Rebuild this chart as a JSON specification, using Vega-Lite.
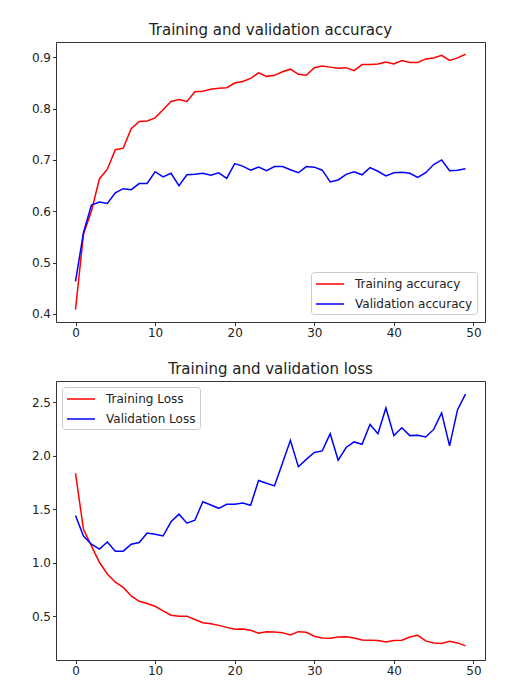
{
  "$schema": "https://vega.github.io/schema/vega-lite/v6.json",
  "padding": {"left": 30, "top": 22, "right": 12, "bottom": 8},
  "background": "white",
  "spacing": 22,
  "config": {
    "font": "DejaVu Sans",
    "view": {"stroke": "#333333", "strokeWidth": 1},
    "axis": {"grid": false, "domain": false, "tickColor": "#333333", "tickSize": 3.5, "labelFontSize": 12, "labelColor": "#222222", "labelFont": "DejaVu Sans", "labelPadding": 2, "title": null},
    "title": {"fontSize": 15, "fontWeight": "normal", "color": "#222222", "offset": 4, "anchor": "middle", "font": "DejaVu Sans"},
    "legend": {"title": null, "symbolType": "M-1,0H3", "symbolSize": 196, "symbolStrokeWidth": 1.5, "labelFontSize": 12, "labelFont": "DejaVu Sans", "labelColor": "#222222", "labelOffset": 24, "padding": 4, "rowPadding": 6, "fillColor": "white", "strokeColor": "#cccccc", "cornerRadius": 3},
    "line": {"strokeWidth": 1.5}
  },
  "datasets": {
    "acc": [
      {"epoch":0,"series":"Training accuracy","value":0.408},{"epoch":1,"series":"Training accuracy","value":0.555},{"epoch":2,"series":"Training accuracy","value":0.600},{"epoch":3,"series":"Training accuracy","value":0.663},{"epoch":4,"series":"Training accuracy","value":0.682},{"epoch":5,"series":"Training accuracy","value":0.720},{"epoch":6,"series":"Training accuracy","value":0.723},{"epoch":7,"series":"Training accuracy","value":0.761},{"epoch":8,"series":"Training accuracy","value":0.775},{"epoch":9,"series":"Training accuracy","value":0.776},
      {"epoch":10,"series":"Training accuracy","value":0.782},{"epoch":11,"series":"Training accuracy","value":0.798},{"epoch":12,"series":"Training accuracy","value":0.814},{"epoch":13,"series":"Training accuracy","value":0.818},{"epoch":14,"series":"Training accuracy","value":0.814},{"epoch":15,"series":"Training accuracy","value":0.833},{"epoch":16,"series":"Training accuracy","value":0.834},{"epoch":17,"series":"Training accuracy","value":0.838},{"epoch":18,"series":"Training accuracy","value":0.840},{"epoch":19,"series":"Training accuracy","value":0.841},
      {"epoch":20,"series":"Training accuracy","value":0.850},{"epoch":21,"series":"Training accuracy","value":0.853},{"epoch":22,"series":"Training accuracy","value":0.859},{"epoch":23,"series":"Training accuracy","value":0.870},{"epoch":24,"series":"Training accuracy","value":0.863},{"epoch":25,"series":"Training accuracy","value":0.865},{"epoch":26,"series":"Training accuracy","value":0.872},{"epoch":27,"series":"Training accuracy","value":0.877},{"epoch":28,"series":"Training accuracy","value":0.867},{"epoch":29,"series":"Training accuracy","value":0.865},
      {"epoch":30,"series":"Training accuracy","value":0.880},{"epoch":31,"series":"Training accuracy","value":0.883},{"epoch":32,"series":"Training accuracy","value":0.881},{"epoch":33,"series":"Training accuracy","value":0.879},{"epoch":34,"series":"Training accuracy","value":0.880},{"epoch":35,"series":"Training accuracy","value":0.874},{"epoch":36,"series":"Training accuracy","value":0.886},{"epoch":37,"series":"Training accuracy","value":0.886},{"epoch":38,"series":"Training accuracy","value":0.887},{"epoch":39,"series":"Training accuracy","value":0.891},
      {"epoch":40,"series":"Training accuracy","value":0.887},{"epoch":41,"series":"Training accuracy","value":0.894},{"epoch":42,"series":"Training accuracy","value":0.890},{"epoch":43,"series":"Training accuracy","value":0.890},{"epoch":44,"series":"Training accuracy","value":0.897},{"epoch":45,"series":"Training accuracy","value":0.899},{"epoch":46,"series":"Training accuracy","value":0.904},{"epoch":47,"series":"Training accuracy","value":0.894},{"epoch":48,"series":"Training accuracy","value":0.899},{"epoch":49,"series":"Training accuracy","value":0.906},
      {"epoch":0,"series":"Validation accuracy","value":0.463},{"epoch":1,"series":"Validation accuracy","value":0.558},{"epoch":2,"series":"Validation accuracy","value":0.612},{"epoch":3,"series":"Validation accuracy","value":0.618},{"epoch":4,"series":"Validation accuracy","value":0.615},{"epoch":5,"series":"Validation accuracy","value":0.636},{"epoch":6,"series":"Validation accuracy","value":0.644},{"epoch":7,"series":"Validation accuracy","value":0.642},{"epoch":8,"series":"Validation accuracy","value":0.654},{"epoch":9,"series":"Validation accuracy","value":0.654},
      {"epoch":10,"series":"Validation accuracy","value":0.677},{"epoch":11,"series":"Validation accuracy","value":0.667},{"epoch":12,"series":"Validation accuracy","value":0.674},{"epoch":13,"series":"Validation accuracy","value":0.650},{"epoch":14,"series":"Validation accuracy","value":0.671},{"epoch":15,"series":"Validation accuracy","value":0.672},{"epoch":16,"series":"Validation accuracy","value":0.674},{"epoch":17,"series":"Validation accuracy","value":0.670},{"epoch":18,"series":"Validation accuracy","value":0.675},{"epoch":19,"series":"Validation accuracy","value":0.664},
      {"epoch":20,"series":"Validation accuracy","value":0.693},{"epoch":21,"series":"Validation accuracy","value":0.688},{"epoch":22,"series":"Validation accuracy","value":0.680},{"epoch":23,"series":"Validation accuracy","value":0.686},{"epoch":24,"series":"Validation accuracy","value":0.679},{"epoch":25,"series":"Validation accuracy","value":0.687},{"epoch":26,"series":"Validation accuracy","value":0.687},{"epoch":27,"series":"Validation accuracy","value":0.681},{"epoch":28,"series":"Validation accuracy","value":0.675},{"epoch":29,"series":"Validation accuracy","value":0.687},
      {"epoch":30,"series":"Validation accuracy","value":0.686},{"epoch":31,"series":"Validation accuracy","value":0.680},{"epoch":32,"series":"Validation accuracy","value":0.657},{"epoch":33,"series":"Validation accuracy","value":0.661},{"epoch":34,"series":"Validation accuracy","value":0.672},{"epoch":35,"series":"Validation accuracy","value":0.677},{"epoch":36,"series":"Validation accuracy","value":0.671},{"epoch":37,"series":"Validation accuracy","value":0.685},{"epoch":38,"series":"Validation accuracy","value":0.678},{"epoch":39,"series":"Validation accuracy","value":0.669},
      {"epoch":40,"series":"Validation accuracy","value":0.675},{"epoch":41,"series":"Validation accuracy","value":0.676},{"epoch":42,"series":"Validation accuracy","value":0.674},{"epoch":43,"series":"Validation accuracy","value":0.666},{"epoch":44,"series":"Validation accuracy","value":0.675},{"epoch":45,"series":"Validation accuracy","value":0.691},{"epoch":46,"series":"Validation accuracy","value":0.700},{"epoch":47,"series":"Validation accuracy","value":0.679},{"epoch":48,"series":"Validation accuracy","value":0.680},{"epoch":49,"series":"Validation accuracy","value":0.683}
    ],
    "loss": [
      {"epoch":0,"series":"Training Loss","value":1.837},{"epoch":1,"series":"Training Loss","value":1.312},{"epoch":2,"series":"Training Loss","value":1.157},{"epoch":3,"series":"Training Loss","value":1.004},{"epoch":4,"series":"Training Loss","value":0.895},{"epoch":5,"series":"Training Loss","value":0.818},{"epoch":6,"series":"Training Loss","value":0.769},{"epoch":7,"series":"Training Loss","value":0.689},{"epoch":8,"series":"Training Loss","value":0.639},{"epoch":9,"series":"Training Loss","value":0.618},
      {"epoch":10,"series":"Training Loss","value":0.593},{"epoch":11,"series":"Training Loss","value":0.550},{"epoch":12,"series":"Training Loss","value":0.509},{"epoch":13,"series":"Training Loss","value":0.500},{"epoch":14,"series":"Training Loss","value":0.500},{"epoch":15,"series":"Training Loss","value":0.469},{"epoch":16,"series":"Training Loss","value":0.439},{"epoch":17,"series":"Training Loss","value":0.430},{"epoch":18,"series":"Training Loss","value":0.414},{"epoch":19,"series":"Training Loss","value":0.395},
      {"epoch":20,"series":"Training Loss","value":0.377},{"epoch":21,"series":"Training Loss","value":0.380},{"epoch":22,"series":"Training Loss","value":0.368},{"epoch":23,"series":"Training Loss","value":0.340},{"epoch":24,"series":"Training Loss","value":0.355},{"epoch":25,"series":"Training Loss","value":0.352},{"epoch":26,"series":"Training Loss","value":0.346},{"epoch":27,"series":"Training Loss","value":0.324},{"epoch":28,"series":"Training Loss","value":0.355},{"epoch":29,"series":"Training Loss","value":0.349},
      {"epoch":30,"series":"Training Loss","value":0.312},{"epoch":31,"series":"Training Loss","value":0.296},{"epoch":32,"series":"Training Loss","value":0.293},{"epoch":33,"series":"Training Loss","value":0.305},{"epoch":34,"series":"Training Loss","value":0.308},{"epoch":35,"series":"Training Loss","value":0.296},{"epoch":36,"series":"Training Loss","value":0.278},{"epoch":37,"series":"Training Loss","value":0.275},{"epoch":38,"series":"Training Loss","value":0.272},{"epoch":39,"series":"Training Loss","value":0.259},
      {"epoch":40,"series":"Training Loss","value":0.272},{"epoch":41,"series":"Training Loss","value":0.275},{"epoch":42,"series":"Training Loss","value":0.305},{"epoch":43,"series":"Training Loss","value":0.321},{"epoch":44,"series":"Training Loss","value":0.269},{"epoch":45,"series":"Training Loss","value":0.250},{"epoch":46,"series":"Training Loss","value":0.244},{"epoch":47,"series":"Training Loss","value":0.265},{"epoch":48,"series":"Training Loss","value":0.250},{"epoch":49,"series":"Training Loss","value":0.222},
      {"epoch":0,"series":"Validation Loss","value":1.442},{"epoch":1,"series":"Validation Loss","value":1.250},{"epoch":2,"series":"Validation Loss","value":1.173},{"epoch":3,"series":"Validation Loss","value":1.127},{"epoch":4,"series":"Validation Loss","value":1.194},{"epoch":5,"series":"Validation Loss","value":1.108},{"epoch":6,"series":"Validation Loss","value":1.108},{"epoch":7,"series":"Validation Loss","value":1.173},{"epoch":8,"series":"Validation Loss","value":1.189},{"epoch":9,"series":"Validation Loss","value":1.278},
      {"epoch":10,"series":"Validation Loss","value":1.266},{"epoch":11,"series":"Validation Loss","value":1.250},{"epoch":12,"series":"Validation Loss","value":1.383},{"epoch":13,"series":"Validation Loss","value":1.454},{"epoch":14,"series":"Validation Loss","value":1.370},{"epoch":15,"series":"Validation Loss","value":1.398},{"epoch":16,"series":"Validation Loss","value":1.571},{"epoch":17,"series":"Validation Loss","value":1.540},{"epoch":18,"series":"Validation Loss","value":1.509},{"epoch":19,"series":"Validation Loss","value":1.546},
      {"epoch":20,"series":"Validation Loss","value":1.546},{"epoch":21,"series":"Validation Loss","value":1.559},{"epoch":22,"series":"Validation Loss","value":1.537},{"epoch":23,"series":"Validation Loss","value":1.769},{"epoch":24,"series":"Validation Loss","value":1.744},{"epoch":25,"series":"Validation Loss","value":1.719},{"epoch":26,"series":"Validation Loss","value":1.930},{"epoch":27,"series":"Validation Loss","value":2.145},{"epoch":28,"series":"Validation Loss","value":1.898},{"epoch":29,"series":"Validation Loss","value":1.967},
      {"epoch":30,"series":"Validation Loss","value":2.031},{"epoch":31,"series":"Validation Loss","value":2.046},{"epoch":32,"series":"Validation Loss","value":2.207},{"epoch":33,"series":"Validation Loss","value":1.960},{"epoch":34,"series":"Validation Loss","value":2.078},{"epoch":35,"series":"Validation Loss","value":2.130},{"epoch":36,"series":"Validation Loss","value":2.108},{"epoch":37,"series":"Validation Loss","value":2.294},{"epoch":38,"series":"Validation Loss","value":2.207},{"epoch":39,"series":"Validation Loss","value":2.448},
      {"epoch":40,"series":"Validation Loss","value":2.189},{"epoch":41,"series":"Validation Loss","value":2.263},{"epoch":42,"series":"Validation Loss","value":2.189},{"epoch":43,"series":"Validation Loss","value":2.192},{"epoch":44,"series":"Validation Loss","value":2.176},{"epoch":45,"series":"Validation Loss","value":2.247},{"epoch":46,"series":"Validation Loss","value":2.402},{"epoch":47,"series":"Validation Loss","value":2.093},{"epoch":48,"series":"Validation Loss","value":2.432},{"epoch":49,"series":"Validation Loss","value":2.578}
    ]
  },
  "vconcat": [
    {
      "title": "Training and validation accuracy",
      "width": 429,
      "height": 280,
      "data": {"name": "acc"},
      "mark": {"type": "line", "strokeWidth": 1.5},
      "encoding": {
        "x": {"field": "epoch", "type": "quantitative", "scale": {"domain": [-2.45, 51.45], "nice": false, "zero": false}, "axis": {"values": [0, 10, 20, 30, 40, 50]}},
        "y": {"field": "value", "type": "quantitative", "scale": {"domain": [0.384, 0.93], "nice": false, "zero": false}, "axis": {"values": [0.4, 0.5, 0.6, 0.7, 0.8, 0.9], "format": ".1f"}},
        "color": {"field": "series", "type": "nominal", "scale": {"domain": ["Training accuracy", "Validation accuracy"], "range": ["#ff0000", "#0000ff"]}, "legend": {"orient": "bottom-right", "offset": 8}}
      }
    },
    {
      "title": "Training and validation loss",
      "width": 429,
      "height": 279,
      "data": {"name": "loss"},
      "mark": {"type": "line", "strokeWidth": 1.5},
      "encoding": {
        "x": {"field": "epoch", "type": "quantitative", "scale": {"domain": [-2.45, 51.45], "nice": false, "zero": false}, "axis": {"values": [0, 10, 20, 30, 40, 50]}},
        "y": {"field": "value", "type": "quantitative", "scale": {"domain": [0.09, 2.7], "nice": false, "zero": false}, "axis": {"values": [0.5, 1.0, 1.5, 2.0, 2.5], "format": ".1f"}},
        "color": {"field": "series", "type": "nominal", "scale": {"domain": ["Training Loss", "Validation Loss"], "range": ["#ff0000", "#0000ff"]}, "legend": {"orient": "top-left", "offset": 6}}
      }
    }
  ],
  "resolve": {"scale": {"color": "independent"}, "legend": {"color": "independent"}}
}
